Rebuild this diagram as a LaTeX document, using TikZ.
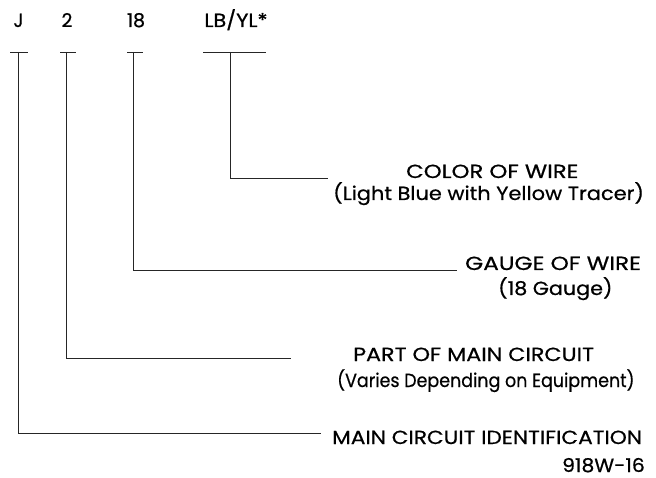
\documentclass[tikz,border=0pt]{standalone}
\usepackage{fontspec}
\usepackage{graphicx}
\setmainfont{Poppins}[FakeBold=0.6]
\newcommand{\sxt}[2]{\scalebox{#1}[1]{#2}}
\begin{document}
\begin{tikzpicture}[x=1pt,y=-1pt,
  lbl/.style={inner sep=0pt,anchor=base,font=\fontsize{19}{22}\selectfont},
  desc/.style={lbl,anchor=base west},
  wire/.style={line width=0.9pt,draw=black!85}]
\useasboundingbox (0,0) rectangle (656,478);
% top code labels
\node[lbl] (J) at (18.5,27) {J};
\node[lbl] (two) at (67,27) {2};
\node[lbl] (eighteen) at (136,27) {18};
\node[lbl] (lbyl) at (236,27) {\sxt{1.1}{LB/YL*}};
% T bars
\coordinate (jl) at (10,52); \coordinate (jr) at (28,52); \coordinate (jt) at (18.5,52);
\coordinate (tl) at (60,52); \coordinate (tr) at (76,52); \coordinate (tt) at (66.5,52);
\coordinate (el) at (127,52); \coordinate (er) at (143,52); \coordinate (et) at (133.5,52);
\coordinate (ll) at (203,52); \coordinate (lr) at (266,52); \coordinate (lt) at (230.5,52);
\draw[wire] (jl) -- (jr);
\draw[wire] (tl) -- (tr);
\draw[wire] (el) -- (er);
\draw[wire] (ll) -- (lr);
% descriptions
\node[desc] (color) at (406,178) {\sxt{1.2}{COLOR OF WIRE}};
\node[desc] (colord) at (333,200) {\sxt{1.1}{(Light Blue with Yellow Tracer)}};
\node[desc] (gauge) at (465,270) {\sxt{1.22}{GAUGE OF WIRE}};
\node[desc] (gauged) at (498,295) {\sxt{1.09}{(18 Gauge)}};
\node[desc] (part) at (353,361) {\sxt{1.17}{PART OF MAIN CIRCUIT}};
\node[desc] (partd) at (337,387) {\sxt{0.92}{(Varies Depending on Equipment)}};
\node[desc] (main) at (332,444) {\sxt{1.14}{MAIN CIRCUIT IDENTIFICATION}};
\node[desc] (fig) at (562,472) {\sxt{1.07}{918W-16}};
% leader lines
\coordinate (lend) at (328,178);
\coordinate (eend) at (457,270);
\coordinate (tend) at (291,358);
\coordinate (jend) at (321,433);
\draw[wire] (lt) |- (lend);
\draw[wire] (et) |- (eend);
\draw[wire] (tt) |- (tend);
\draw[wire] (jt) |- (jend);
\end{tikzpicture}
\end{document}
